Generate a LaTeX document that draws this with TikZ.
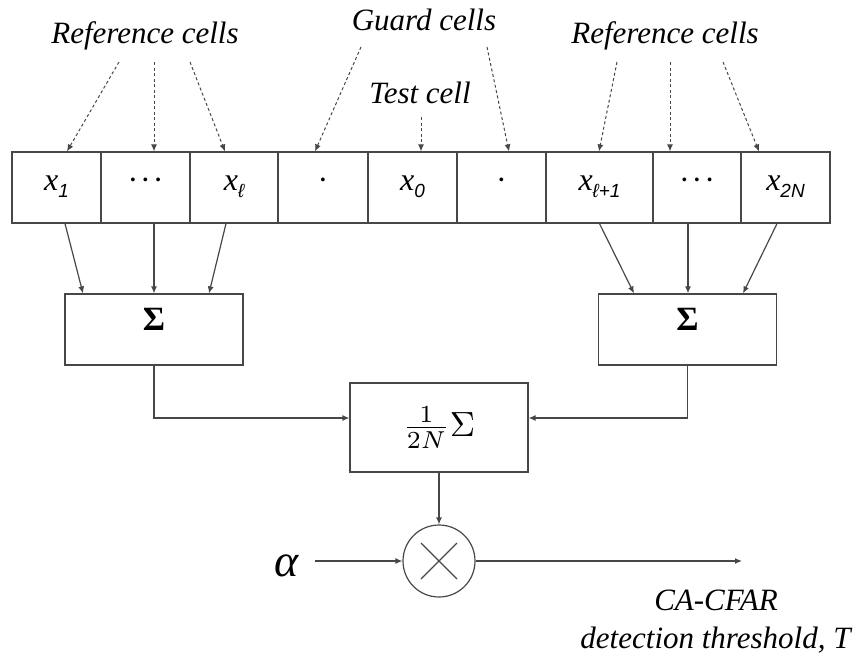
\documentclass[tikz,border=0pt]{standalone}
\usepackage{fontspec}
\setmainfont{Liberation Serif}
\newfontfamily\subsf{Liberation Sans}
\usetikzlibrary{arrows.meta,calc}
\newcommand{\cellx}[1]{\textit{x}\raisebox{-7pt}{\fontsize{19}{19}\selectfont\subsf\itshape #1}}
\newcommand{\mdots}{·\kern2pt·\kern2pt·}
\begin{document}
\begin{tikzpicture}[x=1pt,y=-1pt,
  lc/.style={draw=black!72},
  cell/.style={lc, line width=1.2pt, minimum height=71pt, inner sep=0pt, text height=13pt, text depth=8pt, font=\fontsize{32}{32}\selectfont},
  sumbox/.style={lc, line width=1.2pt, minimum width=178pt, minimum height=71pt, text height=22pt, text depth=20pt, font=\fontsize{34}{34}\selectfont\bfseries},
  lbl/.style={anchor=base, inner sep=0pt, font=\fontsize{31}{31}\selectfont\itshape},
  dasharrow/.style={draw=black!72, line width=1pt, dash pattern=on 3pt off 2.5pt, -{Latex[length=7pt,width=6pt]}},
  solarrow/.style={draw=black!72, line width=1.2pt, -{Latex[length=7pt,width=6pt]}},
  solline/.style={draw=black!72, line width=1.2pt}
]
\useasboundingbox (0,0) rectangle (862,656);

% cells
\node[cell, minimum width=89pt]  (c1) at (56.5,187.5) {\cellx{1}};
\node[cell, minimum width=89pt]  (c2) at (145.5,187.5) {\mdots};
\node[cell, minimum width=88pt]  (c3) at (234,187.5) {\cellx{ℓ}};
\node[cell, minimum width=90pt]  (c4) at (323,187.5) {·};
\node[cell, minimum width=89pt]  (c5) at (412.5,187.5) {\cellx{0}};
\node[cell, minimum width=89pt]  (c6) at (501.5,187.5) {·};
\node[cell, minimum width=107pt] (c7) at (599.5,187.5) {\cellx{ℓ+1}};
\node[cell, minimum width=88pt]  (c8) at (697,187.5) {\mdots};
\node[cell, minimum width=89pt]  (c9) at (785.5,187.5) {\cellx{2N}};

% labels
\node[lbl] (refL) at (145,43) {Reference cells};
\node[lbl] (guard) at (424,30) {Guard cells};
\node[lbl] (test) at (420,103) {Test cell};
\node[lbl] (refR) at (665,43) {Reference cells};

% sum boxes
\node[sumbox] (sumL) at (154,329.5) {Σ};
\node[sumbox] (sumR) at (687.5,329.5) {Σ};
\node[lc, line width=1.2pt, minimum width=178pt, minimum height=89pt, inner sep=0pt] (mid) at (439,427.5) {\scalebox{3.5}{$\frac{1}{2N}\Sigma$}};

% multiplier
\node[lc, line width=1.2pt, circle, minimum size=72pt, inner sep=0pt,
  path picture={\draw[black!72, line width=1.1pt] ([shift={(-18pt,-18pt)}]path picture bounding box.center) -- ([shift={(18pt,18pt)}]path picture bounding box.center);
                \draw[black!72, line width=1.1pt] ([shift={(-18pt,18pt)}]path picture bounding box.center) -- ([shift={(18pt,-18pt)}]path picture bounding box.center);}] (mult) at (439,561) {};

\node[inner sep=0pt, inner xsep=16pt, font=\fontsize{46}{46}\selectfont\itshape] (alpha) at (287,566) {α};
\coordinate (out) at (742,561);
\node[lbl] (cacfar) at (716,610) {CA-CFAR};
\node[lbl] (thresh) at (715.5,648) {detection threshold, T};

% dashed pointers
\draw[dasharrow] ($(refL.base)+(-26,19)$) -- ($(c1.north)+(10.5,0)$);
\draw[dasharrow] ($(refL.base)+(9,19)$) -- ($(c2.north)+(8.5,0)$);
\draw[dasharrow] ($(refL.base)+(45,19)$) -- ($(c3.north)+(-9,0)$);
\draw[dasharrow] ($(guard.base)+(-63,17)$) -- ($(c4.north)+(-8,0)$);
\draw[dasharrow] ($(guard.base)+(63,17)$) -- ($(c6.north)+(7.5,0)$);
\draw[dasharrow] ($(test.base)+(1,14)$) -- ($(c5.north)+(8.5,0)$);
\draw[dasharrow] ($(refR.base)+(-48,19)$) -- ($(c7.north)+(-0.5,0)$);
\draw[dasharrow] ($(refR.base)+(5,19)$) -- ($(c8.north)+(-27,0)$);
\draw[dasharrow] ($(refR.base)+(58,19)$) -- ($(c9.north)+(-26.5,0)$);

% solid arrows to sums
\draw[solarrow] ($(c1.south)+(8.5,0)$) -- ($(sumL.north)+(-71,0)$);
\draw[solarrow] ($(c2.south)+(8.5,0)$) -- (sumL.north);
\draw[solarrow] ($(c3.south)+(-8,0)$) -- ($(sumL.north)+(55,0)$);
\draw[solarrow] (c7.south) -- ($(sumR.north)+(-53.5,0)$);
\draw[solarrow] ($(c8.south)+(-9,0)$) -- ($(sumR.north)+(0.5,0)$);
\draw[solarrow] ($(c9.south)+(-8.5,0)$) -- ($(sumR.north)+(55.5,0)$);

% to average
\draw[solarrow] (sumL.south) |- ($(mid.west)+(0,-9.5)$);
\draw[solarrow] (sumR.south) |- ($(mid.east)+(0,-9.5)$);
\draw[solarrow] (mid.south) -- (mult.north);
\draw[solarrow] (alpha.east |- mult.west) -- (mult.west);
\draw[solarrow] (mult.east) -- (out);
\end{tikzpicture}
\end{document}
